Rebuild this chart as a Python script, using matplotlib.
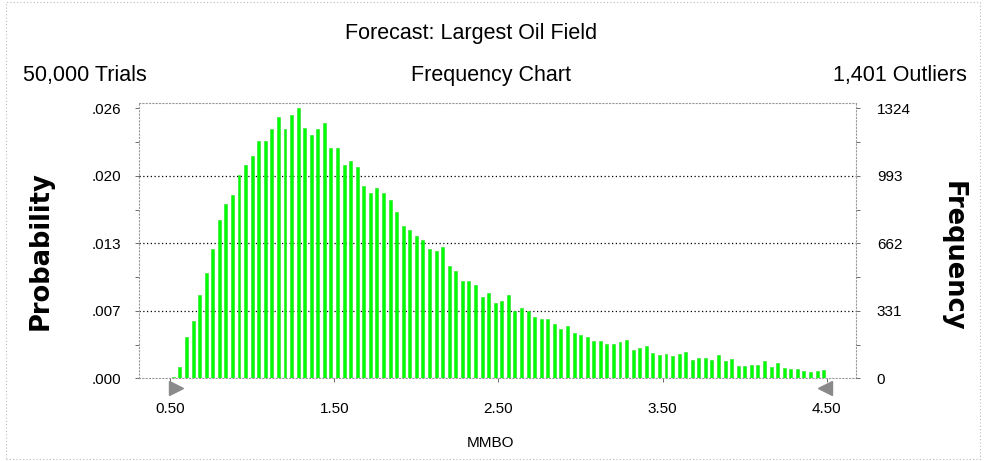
import matplotlib
matplotlib.use("Agg")
import matplotlib.pyplot as plt
from matplotlib.patches import Rectangle
import numpy as np

# Crystal Ball style forecast histogram (100 bins from 0.50 to 4.50)
trials = 50000
first_bin = 0.52
bin_width = 0.04
freq = [8, 57, 204, 283, 407, 515, 633, 776, 855, 901, 999, 1046, 1089, 1164, 1164,
        1223, 1283, 1223, 1291, 1324, 1229, 1193, 1221, 1254, 1128,
        1128, 1046, 1066, 1036, 943, 910, 933, 910, 873, 815, 745, 726, 698, 680,
        633, 624, 642, 552, 525, 476, 476, 456, 397, 420, 368, 378, 407, 330, 343,
        331, 303, 292, 292, 264, 240, 255, 220, 211, 202, 183, 184, 166,
        170, 179, 188, 140, 148, 160, 122, 112, 120, 110, 121, 130, 91, 100,
        99, 88, 114, 85, 95, 62, 62, 64, 64, 87, 56, 74, 52, 44, 44, 36, 33, 36, 43]
x_ticks = [0.5, 1.5, 2.5, 3.5, 4.5]
x_tick_labels = ["0.50", "1.50", "2.50", "3.50", "4.50"]
freq_ticks = [0, 331, 662, 993, 1324]
grabbers = [0.535, 4.49]

W, H = 984, 461
plt.rcParams['font.family'] = ['Liberation Sans', 'DejaVu Sans']


def px(x, y):
    return x / W, 1 - y / H


fig = plt.figure(figsize=(W / 100, H / 100), dpi=100)
ax = fig.add_axes([139 / W, (H - 378.3) / H, (856 - 139) / W, 275 / H])

centers = first_bin + bin_width * np.arange(len(freq))
ax.bar(centers, freq, width=0.018, color='#00ff00', edgecolor='#22dd22', linewidth=0.4, zorder=3)

ax.set_xlim(0.311, 4.677)
ax.set_ylim(0, 1324 * 275 / 270)

for v in freq_ticks[1:-1]:
    ax.axhline(v, color='black', linestyle=(0, (1, 2)), linewidth=0.9, zorder=2)

for s in ax.spines.values():
    s.set_linestyle((0, (1, 2)))
    s.set_color('#999999')
    s.set_linewidth(0.8)

ax.set_xticks(x_ticks)
ax.set_xticklabels(x_tick_labels)
ax.set_yticks(freq_ticks)
ax.set_yticklabels([f"{v / trials:.3f}".lstrip('0') for v in freq_ticks])
ax.set_yticks(np.arange(165.5, 1324, 331), minor=True)
ax.tick_params(axis='both', which='both', length=3, width=0.6, color='#555555', labelsize=11)
ax.tick_params(axis='y', pad=10)
ax.tick_params(axis='x', pad=14)

ax2 = ax.twinx()
ax2.set_ylim(ax.get_ylim())
ax2.set_yticks(freq_ticks)
ax2.set_yticklabels([str(v) for v in freq_ticks])
ax2.set_yticks(np.arange(165.5, 1324, 331), minor=True)
ax2.tick_params(axis='y', which='both', length=3, width=0.6, color='#555555', labelsize=11, pad=12)
for s in ax2.spines.values():
    s.set_visible(False)

# certainty grabbers
ax.plot([grabbers[0]], [-48], marker='>', markersize=10, color='#8a8a8a', clip_on=False, zorder=5)
ax.plot([grabbers[1]], [-48], marker='<', markersize=10, color='#8a8a8a', clip_on=False, zorder=5)

fig.text(*px(471, 33), "Forecast: Largest Oil Field", ha='center', va='center', fontsize=15.5)
fig.text(*px(23, 76), "50,000 Trials", ha='left', va='center', fontsize=15.5)
fig.text(*px(491, 76), "Frequency Chart", ha='center', va='center', fontsize=15.5)
fig.text(*px(967, 76), "1,401 Outliers", ha='right', va='center', fontsize=15.5)
fig.text(*px(491, 443), "MMBO", ha='center', va='center', fontsize=11)
fig.text(*px(41, 251), "Probability", ha='center', va='center', rotation=90,
         fontsize=18.5, fontweight='bold', family=['DejaVu Sans'])
fig.text(*px(953, 256), "Frequency", ha='center', va='center', rotation=270,
         fontsize=18.5, fontweight='bold', family=['DejaVu Sans'])

fig.patches.append(Rectangle((6 / W, 2 / H), 974 / W, 457 / H, transform=fig.transFigure,
                             fill=False, edgecolor='#bbbbbb', linestyle=(0, (1, 2)), linewidth=0.8))

fig.savefig("out.png", dpi=100)
